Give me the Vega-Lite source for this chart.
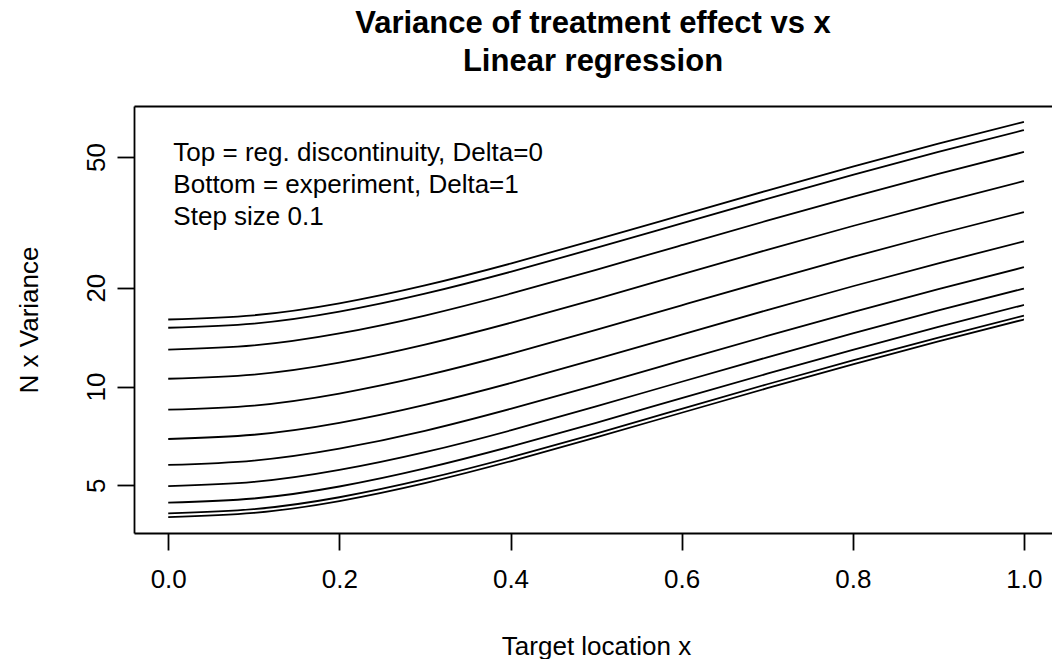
{
  "$schema": "https://vega.github.io/schema/vega-lite/v6.json",
  "autosize": "none",
  "width": 918,
  "height": 427,
  "padding": {"left": 134, "top": 106, "right": 0, "bottom": 126},
  "background": "white",
  "title": {
    "text": ["Variance of treatment effect vs x", "Linear regression"],
    "font": "Liberation Sans",
    "fontSize": 31,
    "fontWeight": "bold",
    "color": "black",
    "anchor": "middle",
    "lineHeight": 38,
    "offset": 28
  },
  "config": {
    "view": {"stroke": null},
    "axis": {
      "grid": false,
      "domainColor": "black",
      "domainWidth": 1.8,
      "tickColor": "black",
      "tickWidth": 1.8,
      "labelColor": "black",
      "titleColor": "black",
      "labelFont": "Liberation Sans",
      "titleFont": "Liberation Sans",
      "labelFontSize": 26,
      "titleFontSize": 26,
      "titleFontWeight": "normal"
    }
  },
  "layer": [
    {
      "data": {
        "values": [
          {"d": 0, "x": 0, "v": 16}, {"d": 0, "x": 0.1, "v": 16.48}, {"d": 0, "x": 0.2, "v": 17.92}, {"d": 0, "x": 0.3, "v": 20.32}, {"d": 0, "x": 0.4, "v": 23.68}, {"d": 0, "x": 0.5, "v": 28}, {"d": 0, "x": 0.6, "v": 33.28}, {"d": 0, "x": 0.7, "v": 39.52}, {"d": 0, "x": 0.8, "v": 46.72}, {"d": 0, "x": 0.9, "v": 54.88}, {"d": 0, "x": 1, "v": 64},
          {"d": 0.1, "x": 0, "v": 15.1}, {"d": 0.1, "x": 0.1, "v": 15.55}, {"d": 0.1, "x": 0.2, "v": 16.91}, {"d": 0.1, "x": 0.3, "v": 19.18}, {"d": 0.1, "x": 0.4, "v": 22.35}, {"d": 0.1, "x": 0.5, "v": 26.42}, {"d": 0.1, "x": 0.6, "v": 31.41}, {"d": 0.1, "x": 0.7, "v": 37.29}, {"d": 0.1, "x": 0.8, "v": 44.09}, {"d": 0.1, "x": 0.9, "v": 51.79}, {"d": 0.1, "x": 1, "v": 60.39},
          {"d": 0.2, "x": 0, "v": 12.95}, {"d": 0.2, "x": 0.1, "v": 13.34}, {"d": 0.2, "x": 0.2, "v": 14.51}, {"d": 0.2, "x": 0.3, "v": 16.45}, {"d": 0.2, "x": 0.4, "v": 19.17}, {"d": 0.2, "x": 0.5, "v": 22.67}, {"d": 0.2, "x": 0.6, "v": 26.94}, {"d": 0.2, "x": 0.7, "v": 32.0}, {"d": 0.2, "x": 0.8, "v": 37.82}, {"d": 0.2, "x": 0.9, "v": 44.43}, {"d": 0.2, "x": 1, "v": 51.81},
          {"d": 0.3, "x": 0, "v": 10.56}, {"d": 0.3, "x": 0.1, "v": 10.87}, {"d": 0.3, "x": 0.2, "v": 11.82}, {"d": 0.3, "x": 0.3, "v": 13.41}, {"d": 0.3, "x": 0.4, "v": 15.62}, {"d": 0.3, "x": 0.5, "v": 18.47}, {"d": 0.3, "x": 0.6, "v": 21.96}, {"d": 0.3, "x": 0.7, "v": 26.07}, {"d": 0.3, "x": 0.8, "v": 30.82}, {"d": 0.3, "x": 0.9, "v": 36.21}, {"d": 0.3, "x": 1, "v": 42.22},
          {"d": 0.4, "x": 0, "v": 8.5}, {"d": 0.4, "x": 0.1, "v": 8.75}, {"d": 0.4, "x": 0.2, "v": 9.52}, {"d": 0.4, "x": 0.3, "v": 10.79}, {"d": 0.4, "x": 0.4, "v": 12.57}, {"d": 0.4, "x": 0.5, "v": 14.87}, {"d": 0.4, "x": 0.6, "v": 17.67}, {"d": 0.4, "x": 0.7, "v": 20.99}, {"d": 0.4, "x": 0.8, "v": 24.81}, {"d": 0.4, "x": 0.9, "v": 29.14}, {"d": 0.4, "x": 1, "v": 33.98},
          {"d": 0.5, "x": 0, "v": 6.92}, {"d": 0.5, "x": 0.1, "v": 7.13}, {"d": 0.5, "x": 0.2, "v": 7.75}, {"d": 0.5, "x": 0.3, "v": 8.79}, {"d": 0.5, "x": 0.4, "v": 10.24}, {"d": 0.5, "x": 0.5, "v": 12.11}, {"d": 0.5, "x": 0.6, "v": 14.39}, {"d": 0.5, "x": 0.7, "v": 17.09}, {"d": 0.5, "x": 0.8, "v": 20.2}, {"d": 0.5, "x": 0.9, "v": 23.73}, {"d": 0.5, "x": 1, "v": 27.68},
          {"d": 0.6, "x": 0, "v": 5.77}, {"d": 0.6, "x": 0.1, "v": 5.95}, {"d": 0.6, "x": 0.2, "v": 6.47}, {"d": 0.6, "x": 0.3, "v": 7.33}, {"d": 0.6, "x": 0.4, "v": 8.55}, {"d": 0.6, "x": 0.5, "v": 10.1}, {"d": 0.6, "x": 0.6, "v": 12.01}, {"d": 0.6, "x": 0.7, "v": 14.26}, {"d": 0.6, "x": 0.8, "v": 16.86}, {"d": 0.6, "x": 0.9, "v": 19.8}, {"d": 0.6, "x": 1, "v": 23.09},
          {"d": 0.7, "x": 0, "v": 4.97}, {"d": 0.7, "x": 0.1, "v": 5.12}, {"d": 0.7, "x": 0.2, "v": 5.57}, {"d": 0.7, "x": 0.3, "v": 6.31}, {"d": 0.7, "x": 0.4, "v": 7.35}, {"d": 0.7, "x": 0.5, "v": 8.7}, {"d": 0.7, "x": 0.6, "v": 10.34}, {"d": 0.7, "x": 0.7, "v": 12.27}, {"d": 0.7, "x": 0.8, "v": 14.51}, {"d": 0.7, "x": 0.9, "v": 17.05}, {"d": 0.7, "x": 1, "v": 19.88},
          {"d": 0.8, "x": 0, "v": 4.43}, {"d": 0.8, "x": 0.1, "v": 4.56}, {"d": 0.8, "x": 0.2, "v": 4.96}, {"d": 0.8, "x": 0.3, "v": 5.63}, {"d": 0.8, "x": 0.4, "v": 6.56}, {"d": 0.8, "x": 0.5, "v": 7.75}, {"d": 0.8, "x": 0.6, "v": 9.22}, {"d": 0.8, "x": 0.7, "v": 10.94}, {"d": 0.8, "x": 0.8, "v": 12.94}, {"d": 0.8, "x": 0.9, "v": 15.2}, {"d": 0.8, "x": 1, "v": 17.72},
          {"d": 0.9, "x": 0, "v": 4.11}, {"d": 0.9, "x": 0.1, "v": 4.23}, {"d": 0.9, "x": 0.2, "v": 4.6}, {"d": 0.9, "x": 0.3, "v": 5.22}, {"d": 0.9, "x": 0.4, "v": 6.08}, {"d": 0.9, "x": 0.5, "v": 7.19}, {"d": 0.9, "x": 0.6, "v": 8.55}, {"d": 0.9, "x": 0.7, "v": 10.16}, {"d": 0.9, "x": 0.8, "v": 12.01}, {"d": 0.9, "x": 0.9, "v": 14.1}, {"d": 0.9, "x": 1, "v": 16.44},
          {"d": 1, "x": 0, "v": 4}, {"d": 1, "x": 0.1, "v": 4.12}, {"d": 1, "x": 0.2, "v": 4.48}, {"d": 1, "x": 0.3, "v": 5.08}, {"d": 1, "x": 0.4, "v": 5.92}, {"d": 1, "x": 0.5, "v": 7}, {"d": 1, "x": 0.6, "v": 8.32}, {"d": 1, "x": 0.7, "v": 9.88}, {"d": 1, "x": 0.8, "v": 11.68}, {"d": 1, "x": 0.9, "v": 13.72}, {"d": 1, "x": 1, "v": 16}
        ]
      },
      "mark": {"type": "line", "color": "black", "strokeWidth": 1.8, "interpolate": "natural", "clip": true},
      "encoding": {
        "x": {
          "field": "x", "type": "quantitative",
          "scale": {"domain": [-0.04, 1.0328], "nice": false, "zero": false},
          "axis": {
            "orient": "bottom",
            "values": [0, 0.2, 0.4, 0.6, 0.8, 1],
            "format": ".1f",
            "tickSize": 17,
            "labelPadding": 16,
            "title": "Target location x",
            "titleX": 462,
            "titleY": 113,
            "titleAnchor": null,
            "titleAlign": "center",
            "titleBaseline": "middle"
          }
        },
        "y": {
          "field": "v", "type": "quantitative",
          "scale": {"type": "log", "domain": [3.58, 71.5], "nice": false, "zero": false},
          "axis": {
            "values": [5, 10, 20, 50],
            "format": "d",
            "tickSize": 17,
            "labelAngle": -90,
            "labelAlign": "center",
            "labelBaseline": "alphabetic",
            "labelPadding": 13,
            "title": "N x Variance",
            "titleAngle": -90,
            "titleX": -105,
            "titleY": 213.5,
            "titleAlign": "center",
            "titleBaseline": "middle"
          }
        },
        "detail": {"field": "d", "type": "nominal"}
      }
    },
    {
      "data": {"values": [{"note": "legend"}]},
      "mark": {
        "type": "text",
        "text": ["Top = reg. discontinuity, Delta=0", "Bottom = experiment, Delta=1", "Step size 0.1"],
        "align": "left",
        "baseline": "alphabetic",
        "font": "Liberation Sans",
        "fontSize": 26,
        "lineHeight": 32,
        "color": "black"
      },
      "encoding": {
        "x": {
          "datum": 0.006, "type": "quantitative",
          "axis": {"orient": "top", "labels": false, "ticks": false, "title": null, "domain": true, "grid": false}
        },
        "y": {"datum": 48.5, "type": "quantitative", "title": "N x Variance"}
      }
    }
  ],
  "resolve": {"axis": {"x": "independent"}}
}
